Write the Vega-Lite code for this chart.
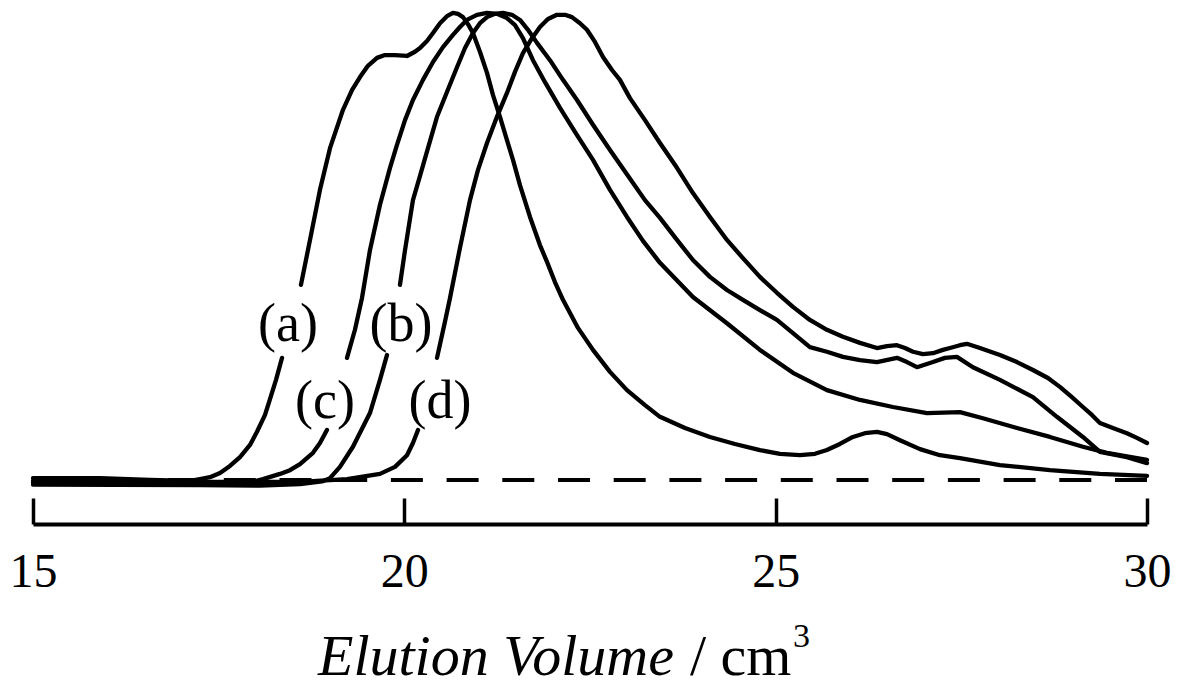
{
  "$schema": "https://vega.github.io/schema/vega-lite/v6.json",
  "width": 1114,
  "height": 524,
  "autosize": {"type": "none"},
  "padding": {"left": 33, "top": 0, "right": 39, "bottom": 164},
  "background": "white",
  "config": {"view": {"stroke": null}},
  "data": {
    "values": [
      {"kind": "base", "V": 15.0, "I": 0},
      {"kind": "label", "t": "(a)", "V": 18.433, "I": 33.1},
      {"kind": "label", "t": "(b)", "V": 19.955, "I": 33.1},
      {"kind": "label", "t": "(c)", "V": 18.932, "I": 16.7},
      {"kind": "label", "t": "(d)", "V": 20.48, "I": 16.7},
      {"kind": "title1", "t": "Elution Volume", "V": 18.837, "I": -41.7},
      {"kind": "title2", "t": "/ cm", "V": 23.846, "I": -41.7},
      {"kind": "title3", "t": "3", "V": 25.233, "I": -35.7},

      {"kind": "curve", "seg": "a1", "V": 15.0, "I": 0.4},
      {"kind": "curve", "seg": "a1", "V": 15.902, "I": 0.4},
      {"kind": "curve", "seg": "a1", "V": 16.575, "I": 0.0},
      {"kind": "curve", "seg": "a1", "V": 17.114, "I": -0.2},
      {"kind": "curve", "seg": "a1", "V": 17.249, "I": 0.2},
      {"kind": "curve", "seg": "a1", "V": 17.383, "I": 0.6},
      {"kind": "curve", "seg": "a1", "V": 17.518, "I": 1.5},
      {"kind": "curve", "seg": "a1", "V": 17.652, "I": 3.0},
      {"kind": "curve", "seg": "a1", "V": 17.787, "I": 4.9},
      {"kind": "curve", "seg": "a1", "V": 17.922, "I": 7.5},
      {"kind": "curve", "seg": "a1", "V": 18.016, "I": 10.3},
      {"kind": "curve", "seg": "a1", "V": 18.124, "I": 13.9},
      {"kind": "curve", "seg": "a1", "V": 18.191, "I": 17.3},
      {"kind": "curve", "seg": "a1", "V": 18.272, "I": 21.4},
      {"kind": "curve", "seg": "a1", "V": 18.353, "I": 26.1},
      {"kind": "curve", "seg": "a2", "V": 18.608, "I": 41.7},
      {"kind": "curve", "seg": "a2", "V": 18.73, "I": 51.3},
      {"kind": "curve", "seg": "a2", "V": 18.864, "I": 62.0},
      {"kind": "curve", "seg": "a2", "V": 18.999, "I": 70.9},
      {"kind": "curve", "seg": "a2", "V": 19.174, "I": 79.1},
      {"kind": "curve", "seg": "a2", "V": 19.295, "I": 83.3},
      {"kind": "curve", "seg": "a2", "V": 19.403, "I": 86.1},
      {"kind": "curve", "seg": "a2", "V": 19.51, "I": 88.5},
      {"kind": "curve", "seg": "a2", "V": 19.632, "I": 90.2},
      {"kind": "curve", "seg": "a2", "V": 19.739, "I": 90.8},
      {"kind": "curve", "seg": "a2", "V": 19.874, "I": 90.8},
      {"kind": "curve", "seg": "a2", "V": 20.036, "I": 90.6},
      {"kind": "curve", "seg": "a2", "V": 20.143, "I": 91.5},
      {"kind": "curve", "seg": "a2", "V": 20.211, "I": 92.3},
      {"kind": "curve", "seg": "a2", "V": 20.305, "I": 93.8},
      {"kind": "curve", "seg": "a2", "V": 20.386, "I": 95.5},
      {"kind": "curve", "seg": "a2", "V": 20.48, "I": 97.6},
      {"kind": "curve", "seg": "a2", "V": 20.574, "I": 99.1},
      {"kind": "curve", "seg": "a2", "V": 20.655, "I": 99.8},
      {"kind": "curve", "seg": "a2", "V": 20.722, "I": 99.6},
      {"kind": "curve", "seg": "a2", "V": 20.79, "I": 98.9},
      {"kind": "curve", "seg": "a2", "V": 20.857, "I": 97.4},
      {"kind": "curve", "seg": "a2", "V": 20.924, "I": 95.5},
      {"kind": "curve", "seg": "a2", "V": 21.018, "I": 91.5},
      {"kind": "curve", "seg": "a2", "V": 21.113, "I": 87.0},
      {"kind": "curve", "seg": "a2", "V": 21.193, "I": 82.3},
      {"kind": "curve", "seg": "a2", "V": 21.288, "I": 77.6},
      {"kind": "curve", "seg": "a2", "V": 21.382, "I": 72.6},
      {"kind": "curve", "seg": "a2", "V": 21.463, "I": 68.4},
      {"kind": "curve", "seg": "a2", "V": 21.557, "I": 63.0},
      {"kind": "curve", "seg": "a2", "V": 21.692, "I": 56.2},
      {"kind": "curve", "seg": "a2", "V": 21.826, "I": 50.2},
      {"kind": "curve", "seg": "a2", "V": 21.921, "I": 46.6},
      {"kind": "curve", "seg": "a2", "V": 22.028, "I": 42.3},
      {"kind": "curve", "seg": "a2", "V": 22.136, "I": 38.5},
      {"kind": "curve", "seg": "a2", "V": 22.338, "I": 32.5},
      {"kind": "curve", "seg": "a2", "V": 22.54, "I": 27.8},
      {"kind": "curve", "seg": "a2", "V": 22.769, "I": 23.1},
      {"kind": "curve", "seg": "a2", "V": 22.998, "I": 19.2},
      {"kind": "curve", "seg": "a2", "V": 23.24, "I": 16.0},
      {"kind": "curve", "seg": "a2", "V": 23.442, "I": 13.5},
      {"kind": "curve", "seg": "a2", "V": 23.779, "I": 11.1},
      {"kind": "curve", "seg": "a2", "V": 24.115, "I": 9.2},
      {"kind": "curve", "seg": "a2", "V": 24.452, "I": 7.7},
      {"kind": "curve", "seg": "a2", "V": 24.788, "I": 6.4},
      {"kind": "curve", "seg": "a2", "V": 25.058, "I": 5.6},
      {"kind": "curve", "seg": "a2", "V": 25.327, "I": 5.3},
      {"kind": "curve", "seg": "a2", "V": 25.529, "I": 5.6},
      {"kind": "curve", "seg": "a2", "V": 25.69, "I": 6.4},
      {"kind": "curve", "seg": "a2", "V": 25.865, "I": 7.7},
      {"kind": "curve", "seg": "a2", "V": 26.04, "I": 9.2},
      {"kind": "curve", "seg": "a2", "V": 26.202, "I": 10.0},
      {"kind": "curve", "seg": "a2", "V": 26.364, "I": 10.3},
      {"kind": "curve", "seg": "a2", "V": 26.499, "I": 9.8},
      {"kind": "curve", "seg": "a2", "V": 26.674, "I": 8.5},
      {"kind": "curve", "seg": "a2", "V": 26.943, "I": 6.6},
      {"kind": "curve", "seg": "a2", "V": 27.212, "I": 5.3},
      {"kind": "curve", "seg": "a2", "V": 27.481, "I": 4.7},
      {"kind": "curve", "seg": "a2", "V": 28.02, "I": 3.2},
      {"kind": "curve", "seg": "a2", "V": 28.693, "I": 2.1},
      {"kind": "curve", "seg": "a2", "V": 29.366, "I": 1.3},
      {"kind": "curve", "seg": "a2", "V": 30.0, "I": 0.9},

      {"kind": "curve", "seg": "c1", "V": 15.0, "I": -0.6},
      {"kind": "curve", "seg": "c1", "V": 16.575, "I": -0.8},
      {"kind": "curve", "seg": "c1", "V": 17.249, "I": -0.9},
      {"kind": "curve", "seg": "c1", "V": 17.854, "I": -0.8},
      {"kind": "curve", "seg": "c1", "V": 18.097, "I": 0.2},
      {"kind": "curve", "seg": "c1", "V": 18.326, "I": 1.3},
      {"kind": "curve", "seg": "c1", "V": 18.46, "I": 2.1},
      {"kind": "curve", "seg": "c1", "V": 18.595, "I": 3.4},
      {"kind": "curve", "seg": "c1", "V": 18.77, "I": 5.8},
      {"kind": "curve", "seg": "c1", "V": 18.864, "I": 7.9},
      {"kind": "curve", "seg": "c1", "V": 18.958, "I": 10.7},
      {"kind": "curve", "seg": "c2", "V": 19.228, "I": 26.1},
      {"kind": "curve", "seg": "c2", "V": 19.335, "I": 32.1},
      {"kind": "curve", "seg": "c2", "V": 19.43, "I": 38.9},
      {"kind": "curve", "seg": "c2", "V": 19.537, "I": 49.1},
      {"kind": "curve", "seg": "c2", "V": 19.672, "I": 58.8},
      {"kind": "curve", "seg": "c2", "V": 19.807, "I": 66.7},
      {"kind": "curve", "seg": "c2", "V": 19.901, "I": 71.6},
      {"kind": "curve", "seg": "c2", "V": 20.009, "I": 76.9},
      {"kind": "curve", "seg": "c2", "V": 20.116, "I": 81.2},
      {"kind": "curve", "seg": "c2", "V": 20.251, "I": 85.5},
      {"kind": "curve", "seg": "c2", "V": 20.386, "I": 89.3},
      {"kind": "curve", "seg": "c2", "V": 20.52, "I": 92.5},
      {"kind": "curve", "seg": "c2", "V": 20.655, "I": 95.1},
      {"kind": "curve", "seg": "c2", "V": 20.749, "I": 96.8},
      {"kind": "curve", "seg": "c2", "V": 20.843, "I": 98.3},
      {"kind": "curve", "seg": "c2", "V": 20.978, "I": 99.4},
      {"kind": "curve", "seg": "c2", "V": 21.113, "I": 99.8},
      {"kind": "curve", "seg": "c2", "V": 21.247, "I": 99.6},
      {"kind": "curve", "seg": "c2", "V": 21.382, "I": 98.7},
      {"kind": "curve", "seg": "c2", "V": 21.49, "I": 97.2},
      {"kind": "curve", "seg": "c2", "V": 21.597, "I": 94.4},
      {"kind": "curve", "seg": "c2", "V": 21.732, "I": 89.7},
      {"kind": "curve", "seg": "c2", "V": 21.894, "I": 85.0},
      {"kind": "curve", "seg": "c2", "V": 22.096, "I": 79.5},
      {"kind": "curve", "seg": "c2", "V": 22.325, "I": 73.7},
      {"kind": "curve", "seg": "c2", "V": 22.54, "I": 68.4},
      {"kind": "curve", "seg": "c2", "V": 22.769, "I": 62.0},
      {"kind": "curve", "seg": "c2", "V": 22.998, "I": 56.2},
      {"kind": "curve", "seg": "c2", "V": 23.213, "I": 51.1},
      {"kind": "curve", "seg": "c2", "V": 23.442, "I": 46.4},
      {"kind": "curve", "seg": "c2", "V": 23.886, "I": 39.1},
      {"kind": "curve", "seg": "c2", "V": 24.344, "I": 33.5},
      {"kind": "curve", "seg": "c2", "V": 24.788, "I": 27.8},
      {"kind": "curve", "seg": "c2", "V": 25.233, "I": 22.9},
      {"kind": "curve", "seg": "c2", "V": 25.69, "I": 19.2},
      {"kind": "curve", "seg": "c2", "V": 26.135, "I": 17.1},
      {"kind": "curve", "seg": "c2", "V": 26.579, "I": 15.6},
      {"kind": "curve", "seg": "c2", "V": 27.037, "I": 14.3},
      {"kind": "curve", "seg": "c2", "V": 27.481, "I": 14.5},
      {"kind": "curve", "seg": "c2", "V": 27.791, "I": 13.2},
      {"kind": "curve", "seg": "c2", "V": 28.249, "I": 11.1},
      {"kind": "curve", "seg": "c2", "V": 28.693, "I": 9.2},
      {"kind": "curve", "seg": "c2", "V": 29.137, "I": 7.1},
      {"kind": "curve", "seg": "c2", "V": 29.46, "I": 5.8},
      {"kind": "curve", "seg": "c2", "V": 30.0, "I": 4.3},

      {"kind": "curve", "seg": "b1", "V": 15.0, "I": -1.0},
      {"kind": "curve", "seg": "b1", "V": 17.249, "I": -1.1},
      {"kind": "curve", "seg": "b1", "V": 18.056, "I": -1.2},
      {"kind": "curve", "seg": "b1", "V": 18.595, "I": -0.9},
      {"kind": "curve", "seg": "b1", "V": 18.891, "I": -0.3},
      {"kind": "curve", "seg": "b1", "V": 18.999, "I": 0.4},
      {"kind": "curve", "seg": "b1", "V": 19.133, "I": 2.8},
      {"kind": "curve", "seg": "b1", "V": 19.308, "I": 7.1},
      {"kind": "curve", "seg": "b1", "V": 19.537, "I": 14.3},
      {"kind": "curve", "seg": "b1", "V": 19.672, "I": 21.4},
      {"kind": "curve", "seg": "b1", "V": 19.766, "I": 26.7},
      {"kind": "curve", "seg": "b2", "V": 19.941, "I": 41.7},
      {"kind": "curve", "seg": "b2", "V": 20.009, "I": 49.1},
      {"kind": "curve", "seg": "b2", "V": 20.116, "I": 59.8},
      {"kind": "curve", "seg": "b2", "V": 20.211, "I": 65.0},
      {"kind": "curve", "seg": "b2", "V": 20.318, "I": 70.9},
      {"kind": "curve", "seg": "b2", "V": 20.44, "I": 77.6},
      {"kind": "curve", "seg": "b2", "V": 20.574, "I": 82.9},
      {"kind": "curve", "seg": "b2", "V": 20.709, "I": 88.2},
      {"kind": "curve", "seg": "b2", "V": 20.817, "I": 92.3},
      {"kind": "curve", "seg": "b2", "V": 20.924, "I": 95.5},
      {"kind": "curve", "seg": "b2", "V": 21.018, "I": 97.6},
      {"kind": "curve", "seg": "b2", "V": 21.113, "I": 98.9},
      {"kind": "curve", "seg": "b2", "V": 21.22, "I": 99.6},
      {"kind": "curve", "seg": "b2", "V": 21.328, "I": 99.8},
      {"kind": "curve", "seg": "b2", "V": 21.449, "I": 99.4},
      {"kind": "curve", "seg": "b2", "V": 21.557, "I": 98.3},
      {"kind": "curve", "seg": "b2", "V": 21.665, "I": 96.2},
      {"kind": "curve", "seg": "b2", "V": 21.786, "I": 93.4},
      {"kind": "curve", "seg": "b2", "V": 21.961, "I": 89.7},
      {"kind": "curve", "seg": "b2", "V": 22.136, "I": 85.5},
      {"kind": "curve", "seg": "b2", "V": 22.325, "I": 81.2},
      {"kind": "curve", "seg": "b2", "V": 22.54, "I": 75.9},
      {"kind": "curve", "seg": "b2", "V": 22.769, "I": 70.5},
      {"kind": "curve", "seg": "b2", "V": 23.011, "I": 65.0},
      {"kind": "curve", "seg": "b2", "V": 23.24, "I": 59.8},
      {"kind": "curve", "seg": "b2", "V": 23.442, "I": 56.0},
      {"kind": "curve", "seg": "b2", "V": 23.671, "I": 51.3},
      {"kind": "curve", "seg": "b2", "V": 23.886, "I": 47.0},
      {"kind": "curve", "seg": "b2", "V": 24.115, "I": 43.4},
      {"kind": "curve", "seg": "b2", "V": 24.344, "I": 40.6},
      {"kind": "curve", "seg": "b2", "V": 24.559, "I": 38.5},
      {"kind": "curve", "seg": "b2", "V": 24.788, "I": 36.3},
      {"kind": "curve", "seg": "b2", "V": 25.017, "I": 34.2},
      {"kind": "curve", "seg": "b2", "V": 25.233, "I": 31.4},
      {"kind": "curve", "seg": "b2", "V": 25.461, "I": 28.4},
      {"kind": "curve", "seg": "b2", "V": 25.69, "I": 27.4},
      {"kind": "curve", "seg": "b2", "V": 25.906, "I": 26.3},
      {"kind": "curve", "seg": "b2", "V": 26.135, "I": 25.6},
      {"kind": "curve", "seg": "b2", "V": 26.364, "I": 25.2},
      {"kind": "curve", "seg": "b2", "V": 26.633, "I": 26.1},
      {"kind": "curve", "seg": "b2", "V": 26.768, "I": 25.2},
      {"kind": "curve", "seg": "b2", "V": 26.903, "I": 24.1},
      {"kind": "curve", "seg": "b2", "V": 27.118, "I": 25.2},
      {"kind": "curve", "seg": "b2", "V": 27.279, "I": 26.1},
      {"kind": "curve", "seg": "b2", "V": 27.441, "I": 26.3},
      {"kind": "curve", "seg": "b2", "V": 27.656, "I": 24.1},
      {"kind": "curve", "seg": "b2", "V": 28.02, "I": 21.4},
      {"kind": "curve", "seg": "b2", "V": 28.464, "I": 17.7},
      {"kind": "curve", "seg": "b2", "V": 28.787, "I": 13.5},
      {"kind": "curve", "seg": "b2", "V": 29.137, "I": 9.2},
      {"kind": "curve", "seg": "b2", "V": 29.366, "I": 6.0},
      {"kind": "curve", "seg": "b2", "V": 29.729, "I": 4.9},
      {"kind": "curve", "seg": "b2", "V": 30.0, "I": 3.6},

      {"kind": "curve", "seg": "d1", "V": 15.0, "I": -0.2},
      {"kind": "curve", "seg": "d1", "V": 17.249, "I": -0.4},
      {"kind": "curve", "seg": "d1", "V": 18.595, "I": -0.4},
      {"kind": "curve", "seg": "d1", "V": 19.228, "I": 0.2},
      {"kind": "curve", "seg": "d1", "V": 19.672, "I": 1.3},
      {"kind": "curve", "seg": "d1", "V": 19.874, "I": 2.8},
      {"kind": "curve", "seg": "d1", "V": 20.036, "I": 5.3},
      {"kind": "curve", "seg": "d1", "V": 20.116, "I": 7.9},
      {"kind": "curve", "seg": "d1", "V": 20.184, "I": 10.7},
      {"kind": "curve", "seg": "d2", "V": 20.44, "I": 26.1},
      {"kind": "curve", "seg": "d2", "V": 20.547, "I": 33.8},
      {"kind": "curve", "seg": "d2", "V": 20.615, "I": 38.9},
      {"kind": "curve", "seg": "d2", "V": 20.749, "I": 49.6},
      {"kind": "curve", "seg": "d2", "V": 20.884, "I": 59.8},
      {"kind": "curve", "seg": "d2", "V": 20.991, "I": 66.2},
      {"kind": "curve", "seg": "d2", "V": 21.113, "I": 72.0},
      {"kind": "curve", "seg": "d2", "V": 21.247, "I": 77.6},
      {"kind": "curve", "seg": "d2", "V": 21.382, "I": 82.7},
      {"kind": "curve", "seg": "d2", "V": 21.49, "I": 87.2},
      {"kind": "curve", "seg": "d2", "V": 21.597, "I": 91.2},
      {"kind": "curve", "seg": "d2", "V": 21.719, "I": 94.4},
      {"kind": "curve", "seg": "d2", "V": 21.826, "I": 96.8},
      {"kind": "curve", "seg": "d2", "V": 21.934, "I": 98.5},
      {"kind": "curve", "seg": "d2", "V": 22.055, "I": 99.4},
      {"kind": "curve", "seg": "d2", "V": 22.163, "I": 99.4},
      {"kind": "curve", "seg": "d2", "V": 22.257, "I": 98.9},
      {"kind": "curve", "seg": "d2", "V": 22.365, "I": 97.6},
      {"kind": "curve", "seg": "d2", "V": 22.459, "I": 96.2},
      {"kind": "curve", "seg": "d2", "V": 22.567, "I": 93.6},
      {"kind": "curve", "seg": "d2", "V": 22.675, "I": 90.4},
      {"kind": "curve", "seg": "d2", "V": 22.796, "I": 87.6},
      {"kind": "curve", "seg": "d2", "V": 22.903, "I": 85.5},
      {"kind": "curve", "seg": "d2", "V": 23.038, "I": 81.6},
      {"kind": "curve", "seg": "d2", "V": 23.24, "I": 76.9},
      {"kind": "curve", "seg": "d2", "V": 23.442, "I": 72.0},
      {"kind": "curve", "seg": "d2", "V": 23.671, "I": 66.7},
      {"kind": "curve", "seg": "d2", "V": 23.886, "I": 61.3},
      {"kind": "curve", "seg": "d2", "V": 24.115, "I": 56.2},
      {"kind": "curve", "seg": "d2", "V": 24.344, "I": 51.3},
      {"kind": "curve", "seg": "d2", "V": 24.559, "I": 47.4},
      {"kind": "curve", "seg": "d2", "V": 24.788, "I": 43.4},
      {"kind": "curve", "seg": "d2", "V": 25.017, "I": 40.0},
      {"kind": "curve", "seg": "d2", "V": 25.233, "I": 37.0},
      {"kind": "curve", "seg": "d2", "V": 25.461, "I": 34.2},
      {"kind": "curve", "seg": "d2", "V": 25.69, "I": 32.1},
      {"kind": "curve", "seg": "d2", "V": 25.906, "I": 30.6},
      {"kind": "curve", "seg": "d2", "V": 26.135, "I": 29.3},
      {"kind": "curve", "seg": "d2", "V": 26.364, "I": 28.2},
      {"kind": "curve", "seg": "d2", "V": 26.499, "I": 28.6},
      {"kind": "curve", "seg": "d2", "V": 26.633, "I": 28.8},
      {"kind": "curve", "seg": "d2", "V": 26.741, "I": 28.2},
      {"kind": "curve", "seg": "d2", "V": 26.849, "I": 27.4},
      {"kind": "curve", "seg": "d2", "V": 26.983, "I": 26.9},
      {"kind": "curve", "seg": "d2", "V": 27.118, "I": 27.1},
      {"kind": "curve", "seg": "d2", "V": 27.252, "I": 27.8},
      {"kind": "curve", "seg": "d2", "V": 27.347, "I": 28.2},
      {"kind": "curve", "seg": "d2", "V": 27.481, "I": 28.8},
      {"kind": "curve", "seg": "d2", "V": 27.575, "I": 29.1},
      {"kind": "curve", "seg": "d2", "V": 27.75, "I": 28.2},
      {"kind": "curve", "seg": "d2", "V": 28.02, "I": 26.7},
      {"kind": "curve", "seg": "d2", "V": 28.249, "I": 25.2},
      {"kind": "curve", "seg": "d2", "V": 28.464, "I": 23.5},
      {"kind": "curve", "seg": "d2", "V": 28.666, "I": 21.8},
      {"kind": "curve", "seg": "d2", "V": 28.827, "I": 19.9},
      {"kind": "curve", "seg": "d2", "V": 28.989, "I": 17.7},
      {"kind": "curve", "seg": "d2", "V": 29.137, "I": 15.6},
      {"kind": "curve", "seg": "d2", "V": 29.258, "I": 13.9},
      {"kind": "curve", "seg": "d2", "V": 29.366, "I": 12.2},
      {"kind": "curve", "seg": "d2", "V": 29.541, "I": 11.1},
      {"kind": "curve", "seg": "d2", "V": 29.729, "I": 10.0},
      {"kind": "curve", "seg": "d2", "V": 29.864, "I": 9.0},
      {"kind": "curve", "seg": "d2", "V": 30.0, "I": 7.9}
    ]
  },
  "encoding": {
    "x": {
      "field": "V", "type": "quantitative",
      "scale": {"domain": [15, 30], "nice": false, "zero": false},
      "axis": {
        "values": [15, 20, 25, 30],
        "title": null,
        "grid": false,
        "domainColor": "black",
        "domainWidth": 4,
        "tickColor": "black",
        "tickWidth": 3.5,
        "tickSize": -26,
        "labelFont": "Liberation Serif",
        "labelFontSize": 48,
        "labelColor": "black",
        "labelPadding": 50,
        "labelFlush": false,
        "labelOverlap": false
      }
    },
    "y": {
      "field": "I", "type": "quantitative",
      "scale": {"domain": [-9.4, 102.56], "nice": false, "zero": false},
      "axis": null
    }
  },
  "layer": [
    {
      "transform": [{"filter": "datum.kind === 'base'"}],
      "mark": {"type": "rule", "color": "black", "strokeWidth": 4, "strokeDash": [32, 23.7]},
      "encoding": {"x": null}
    },
    {
      "transform": [{"filter": "datum.kind === 'curve'"}],
      "mark": {"type": "line", "color": "black", "strokeWidth": 4.3, "strokeJoin": "round", "strokeCap": "round"},
      "encoding": {"detail": {"field": "seg", "type": "nominal"}}
    },
    {
      "transform": [{"filter": "datum.kind === 'label'"}],
      "mark": {"type": "text", "font": "Liberation Serif", "fontSize": 54, "color": "black", "align": "center", "baseline": "middle"},
      "encoding": {"text": {"field": "t", "type": "nominal"}}
    },
    {
      "transform": [{"filter": "datum.kind === 'title1'"}],
      "mark": {"type": "text", "font": "Liberation Serif", "fontSize": 58, "fontStyle": "italic", "color": "black", "align": "left", "baseline": "alphabetic"},
      "encoding": {"text": {"field": "t", "type": "nominal"}}
    },
    {
      "transform": [{"filter": "datum.kind === 'title2'"}],
      "mark": {"type": "text", "font": "Liberation Serif", "fontSize": 58, "color": "black", "align": "left", "baseline": "alphabetic"},
      "encoding": {"text": {"field": "t", "type": "nominal"}}
    },
    {
      "transform": [{"filter": "datum.kind === 'title3'"}],
      "mark": {"type": "text", "font": "Liberation Serif", "fontSize": 34, "color": "black", "align": "left", "baseline": "alphabetic"},
      "encoding": {"text": {"field": "t", "type": "nominal"}}
    }
  ]
}
